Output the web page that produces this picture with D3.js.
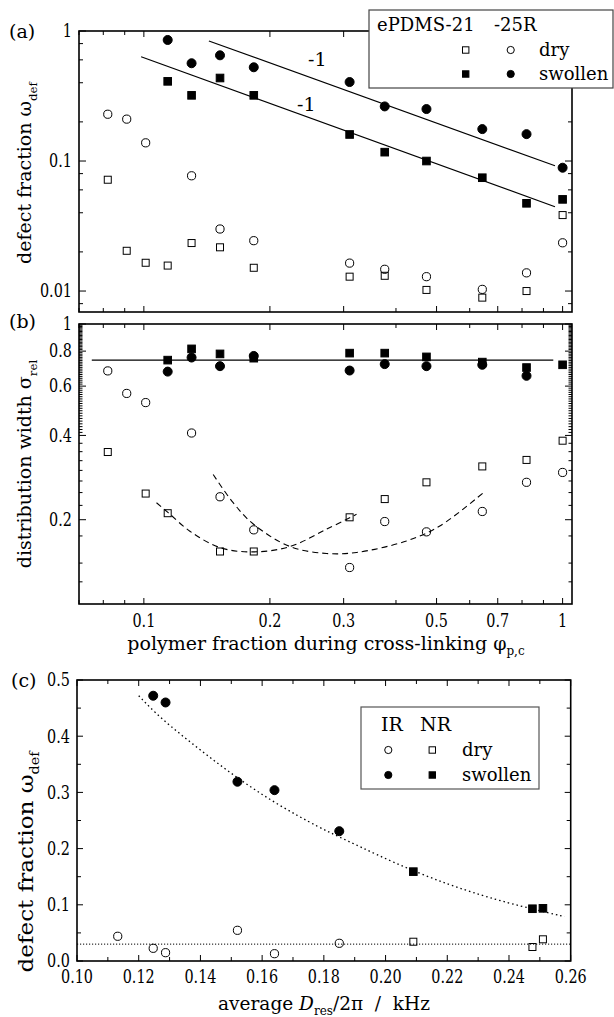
<!DOCTYPE html>
<html><head><meta charset="utf-8">
<script src="https://cdn.jsdelivr.net/npm/d3@7"></script>
<style>
body{margin:0;background:#fff}
svg{display:block}
text{font-family:'DejaVu Serif',serif;fill:#000}
</style>
</head><body>
<svg id="chart" width="614" height="1017"></svg>
<script>
// ---------- data ----------
// (a) defect fraction vs polymer fraction during cross-linking
const a21DryX = [0.082,0.091,0.101,0.114,0.130,0.152,0.183,0.310,0.376,0.473,0.643,0.820,1.0];
const a21DryY = [0.0718,0.0204,0.0165,0.0157,0.0234,0.0217,0.0151,0.0129,0.0131,0.0102,0.0089,0.0100,0.0384];
const a25DryX = [0.082,0.091,0.101,0.130,0.152,0.183,0.310,0.376,0.473,0.643,0.820,1.0];
const a25DryY = [0.229,0.210,0.138,0.077,0.030,0.0244,0.0164,0.0147,0.0129,0.0103,0.0138,0.0235];
const swX = [0.114,0.130,0.152,0.183,0.310,0.376,0.473,0.643,0.820,1.0];
const a21SwY = [0.410,0.320,0.435,0.320,0.160,0.117,0.100,0.0744,0.0473,0.0507];
const a25SwY = [0.853,0.565,0.650,0.526,0.405,0.263,0.251,0.176,0.161,0.0888];
// power-law guide lines (slope -1 labels)
const guide21X = [0.0985,0.959], guide21Y = [0.634,0.0445];
const guide25X = [0.143,0.959],  guide25Y = [0.838,0.092];

// (b) distribution width
const b21DryX = [0.082,0.101,0.114,0.152,0.183,0.310,0.376,0.473,0.643,0.820,1.0];
const b21DryY = [0.349,0.248,0.211,0.154,0.154,0.204,0.237,0.272,0.310,0.327,0.383];
const b25DryX = [0.082,0.091,0.101,0.130,0.152,0.183,0.310,0.376,0.473,0.643,0.820,1.0];
const b25DryY = [0.680,0.565,0.524,0.408,0.2415,0.184,0.135,0.197,0.181,0.214,0.272,0.295];
const b21SwY = [0.743,0.815,0.782,0.755,0.787,0.787,0.763,0.731,0.699,0.715];
const b25SwX = [0.114,0.130,0.152,0.183,0.310,0.376,0.473,0.643,0.820];
const b25SwY = [0.676,0.759,0.707,0.769,0.682,0.719,0.707,0.715,0.653];
const bLevelX = [0.0751,0.950], bLevelY = [0.743,0.743];
const bTrend21 = [[0.1072,0.230],[0.1143,0.212],[0.1288,0.182],[0.152,0.159],[0.1825,0.1535],[0.2234,0.1604],[0.273,0.185],[0.322,0.209]];
const bTrend25 = [[0.1464,0.290],[0.1634,0.230],[0.1825,0.193],[0.2234,0.1604],[0.273,0.1515],[0.322,0.1528],[0.424,0.168],[0.509,0.190],[0.6466,0.2497]];

// (c) defect fraction vs residual coupling
const cIRDryX = [0.1132,0.1247,0.1287,0.152,0.164,0.185];
const cIRDryY = [0.044,0.0226,0.0148,0.0546,0.013,0.0315];
const cIRSwX = [0.1247,0.1287,0.152,0.164,0.185];
const cIRSwY = [0.472,0.460,0.319,0.304,0.231];
const cNRX = [0.209,0.2476,0.251];
const cNRDryY = [0.0343,0.0249,0.0386];
const cNRSwY = [0.159,0.093,0.0937];
const cTrend = [[0.12,0.472],[0.127,0.432],[0.14,0.375],[0.152,0.325],[0.165,0.278],[0.179,0.236],[0.185,0.221],[0.209,0.158],[0.232,0.114],[0.248,0.092],[0.258,0.079]];
const cBase = 0.03;

// tick values
const phiLabels = [0.1,0.2,0.3,0.5,0.7,1];
const phiMinor = [0.07,0.08,0.09,0.4,0.6,0.8,0.9];
const aYLabels = [1,0.1,0.01];
const aYMinor = [0.2,0.4,0.6,0.8,0.02,0.04,0.06,0.08,0.008];
const bYLabels = [1,0.8,0.6,0.4,0.2];
const bYMinor = [0.12,0.14,0.175,0.225,0.25,0.275,0.3,0.325,0.35,0.375]
  .concat(d3.range(41,100).filter(v=>v!==60&&v!==80).map(v=>v/100));
const cXLabels = [0.10,0.12,0.14,0.16,0.18,0.20,0.22,0.24,0.26];
const cXMinor = [0.11,0.13,0.15,0.17,0.19,0.21,0.23,0.25];
const cYLabels = [0.0,0.1,0.2,0.3,0.4,0.5];
const cYMinor = [0.05,0.15,0.25,0.35,0.45];

// ---------- scales ----------
const xA = d3.scaleLog().domain([0.07,1.053]).range([79,572]);
const yA = d3.scaleLog().domain([0.0069,1]).range([312,31]);
const yB = d3.scaleLog().domain([0.1,1]).range([604,324]);
const xC = d3.scaleLinear().domain([0.10,0.26]).range([77,570.7]);
const yC = d3.scaleLinear().domain([0,0.5]).range([961,680]);

const svg = d3.select("#chart");
const NUM_SIZE = 18, NUM_SX = 0.8;   // numerals are set narrow

function frame(x, y){
  const [x0,x1] = x.range(), [y1,y0] = y.range();
  svg.append("rect").attr("x",x0).attr("y",y0).attr("width",x1-x0).attr("height",y1-y0)
    .attr("fill","none").attr("stroke","#000").attr("stroke-width",1.6);
}
function xTicks(x, y, vals, len){
  const [y1,y0] = y.range();
  const g = svg.append("g").attr("stroke","#000").attr("stroke-width",1);
  vals.forEach(v=>{
    const px = x(v);
    g.append("line").attr("x1",px).attr("x2",px).attr("y1",y1).attr("y2",y1-len);
    g.append("line").attr("x1",px).attr("x2",px).attr("y1",y0).attr("y2",y0+len);
  });
}
function yTicks(x, y, vals, len){
  const [x0,x1] = x.range();
  const g = svg.append("g").attr("stroke","#000").attr("stroke-width",1);
  vals.forEach(v=>{
    const py = y(v);
    g.append("line").attr("y1",py).attr("y2",py).attr("x1",x0).attr("x2",x0+len);
    g.append("line").attr("y1",py).attr("y2",py).attr("x1",x1).attr("x2",x1-len);
  });
}
function numText(px, py, str, anchor){
  svg.append("text").attr("transform",`translate(${px},${py}) scale(${NUM_SX},1)`)
    .attr("text-anchor",anchor).attr("font-size",NUM_SIZE).text(str);
}
function xLabels(x, vals, yPos, fmt){
  vals.forEach(v=>numText(x(v), yPos, fmt(v), "middle"));
}
function yLabels(y, vals, xPos, fmt){
  vals.forEach(v=>numText(xPos, y(v)+6.3, fmt(v), "end"));
}
function markers(x, y, xs, ys, shape, filled){
  const g = svg.append("g");
  xs.forEach((xv,i)=>{
    const px = x(xv), py = y(ys[i]);
    if(shape==="circle"){
      g.append("circle").attr("cx",px).attr("cy",py).attr("r",filled?4.5:4.1)
        .attr("fill",filled?"#000":"none").attr("stroke","#000").attr("stroke-width",1);
    } else {
      const s = filled?7.6:7;
      g.append("rect").attr("x",px-s/2).attr("y",py-s/2).attr("width",s).attr("height",s)
        .attr("fill",filled?"#000":"none").attr("stroke","#000").attr("stroke-width",1);
    }
  });
}
function legendMark(px, py, shape, filled){
  if(shape==="circle"){
    svg.append("circle").attr("cx",px).attr("cy",py).attr("r",3.6)
      .attr("fill",filled?"#000":"none").attr("stroke","#000").attr("stroke-width",1);
  } else {
    const s = 6.4;
    svg.append("rect").attr("x",px-s/2).attr("y",py-s/2).attr("width",s).attr("height",s)
      .attr("fill",filled?"#000":"none").attr("stroke","#000").attr("stroke-width",1);
  }
}
function yTitle(cx, cy, main, sub, size, stretch){
  const t = svg.append("text").attr("transform",`translate(${cx},${cy}) rotate(-90) scale(${stretch},1)`)
    .attr("text-anchor","middle").attr("font-size",size);
  t.append("tspan").text(main);
  t.append("tspan").attr("font-size",size*0.62).attr("dy",size*0.3).text(sub);
}
const fmtPhi = d=>String(d);

// ---------- panel (a) ----------
frame(xA, yA);
xTicks(xA, yA, phiLabels, 6);
xTicks(xA, yA, phiMinor, 4);
yTicks(xA, yA, aYLabels, 7);
yTicks(xA, yA, aYMinor, 4);
yLabels(yA, aYLabels, 72, d=>String(d));
svg.append("text").attr("x",9).attr("y",38).attr("font-size",19).text("(a)");
yTitle(31, 173, "defect fraction ω", "def", 19, 1);

const line = d3.line().x(d=>d[0]).y(d=>d[1]);
[[guide21X,guide21Y],[guide25X,guide25Y]].forEach(([gx,gy])=>{
  svg.append("path").attr("d",line(gx.map((v,i)=>[xA(v),yA(gy[i])])))
    .attr("fill","none").attr("stroke","#000").attr("stroke-width",1.2);
});
svg.append("text").attr("x",308).attr("y",66).attr("font-size",19).text("-1");
svg.append("text").attr("x",297).attr("y",111).attr("font-size",19).text("-1");

markers(xA, yA, a21DryX, a21DryY, "square", false);
markers(xA, yA, a25DryX, a25DryY, "circle", false);
markers(xA, yA, swX, a21SwY, "square", true);
markers(xA, yA, swX, a25SwY, "circle", true);

// legend (a)
svg.append("rect").attr("x",369).attr("y",10).attr("width",244).attr("height",78)
  .attr("fill","#fff").attr("stroke","#444").attr("stroke-width",1.2);
svg.append("text").attr("x",377).attr("y",31).attr("font-size",18).text("ePDMS-21");
svg.append("text").attr("x",494).attr("y",31).attr("font-size",18).text("-25R");
legendMark(465.7, 50, "square", false);
legendMark(510.7, 50, "circle", false);
legendMark(465.7, 74, "square", true);
legendMark(510.7, 74, "circle", true);
svg.append("text").attr("x",539).attr("y",56).attr("font-size",18).text("dry");
svg.append("text").attr("x",539).attr("y",80).attr("font-size",18).text("swollen");

// ---------- panel (b) ----------
frame(xA, yB);
xTicks(xA, yB, phiLabels, 6);
xTicks(xA, yB, phiMinor, 4);
yTicks(xA, yB, bYLabels, 7);
yTicks(xA, yB, bYMinor, 3.5);
yLabels(yB, bYLabels, 72, d=>String(d));
xLabels(xA, phiLabels, 627, fmtPhi);
svg.append("text").attr("x",9).attr("y",328).attr("font-size",19).text("(b)");
yTitle(31, 464, "distribution width σ", "rel", 19, 1);

svg.append("path").attr("d",line(bLevelX.map((v,i)=>[xA(v),yB(bLevelY[i])])))
  .attr("fill","none").attr("stroke","#000").attr("stroke-width",1.2);
const curveB = d3.line().x(d=>xA(d[0])).y(d=>yB(d[1])).curve(d3.curveCatmullRom);
[bTrend21,bTrend25].forEach(pts=>{
  svg.append("path").attr("d",curveB(pts)).attr("fill","none").attr("stroke","#000")
    .attr("stroke-width",1.1).attr("stroke-dasharray","6,4");
});

markers(xA, yB, b21DryX, b21DryY, "square", false);
markers(xA, yB, b25DryX, b25DryY, "circle", false);
markers(xA, yB, swX, b21SwY, "square", true);
markers(xA, yB, b25SwX, b25SwY, "circle", true);

// x title shared by (a) and (b)
{
  const t = svg.append("text").attr("x",326).attr("y",650).attr("text-anchor","middle").attr("font-size",19);
  t.append("tspan").text("polymer fraction during cross-linking φ");
  t.append("tspan").attr("font-size",12).attr("dy",5).text("p,c");
}

// ---------- panel (c) ----------
frame(xC, yC);
xTicks(xC, yC, cXLabels, 6);
xTicks(xC, yC, cXMinor, 4);
yTicks(xC, yC, cYLabels, 6);
yTicks(xC, yC, cYMinor, 4);
yLabels(yC, cYLabels, 70, d3.format(".1f"));
xLabels(xC, cXLabels, 983, d3.format(".2f"));
svg.append("text").attr("x",11).attr("y",687).attr("font-size",19).text("(c)");
yTitle(33, 862, "defect fraction ω", "def", 21, 1.1);

svg.append("path").attr("d",line([[xC.range()[0],yC(cBase)],[xC.range()[1],yC(cBase)]]))
  .attr("fill","none").attr("stroke","#000").attr("stroke-width",1).attr("stroke-dasharray","1.2,1.8");
const curveC = d3.line().x(d=>xC(d[0])).y(d=>yC(d[1])).curve(d3.curveBasis);
svg.append("path").attr("d",curveC(cTrend)).attr("fill","none").attr("stroke","#000")
  .attr("stroke-width",1.3).attr("stroke-dasharray","1.5,3");

markers(xC, yC, cIRDryX, cIRDryY, "circle", false);
markers(xC, yC, cIRSwX, cIRSwY, "circle", true);
markers(xC, yC, cNRX, cNRDryY, "square", false);
markers(xC, yC, cNRX, cNRSwY, "square", true);

// legend (c)
svg.append("rect").attr("x",361).attr("y",707).attr("width",178).attr("height",82)
  .attr("fill","#fff").attr("stroke","#555").attr("stroke-width",1.2);
svg.append("text").attr("x",381).attr("y",731).attr("font-size",19).text("IR");
svg.append("text").attr("x",420).attr("y",731).attr("font-size",19).text("NR");
legendMark(388.3, 750, "circle", false);
legendMark(432.3, 750, "square", false);
legendMark(388.3, 775, "circle", true);
legendMark(432.3, 775, "square", true);
svg.append("text").attr("x",462).attr("y",756).attr("font-size",18).text("dry");
svg.append("text").attr("x",462).attr("y",781).attr("font-size",18).text("swollen");

// x title (c)
{
  const t = svg.append("text").attr("x",324).attr("y",1010).attr("text-anchor","middle").attr("font-size",18.5);
  t.append("tspan").text("average ");
  t.append("tspan").attr("font-style","italic").text("D");
  t.append("tspan").attr("font-size",12).attr("dy",5).text("res");
  t.append("tspan").attr("dy",-5).text("/2π\u00a0\u00a0/\u00a0\u00a0kHz");
}
</script>
</body></html>
